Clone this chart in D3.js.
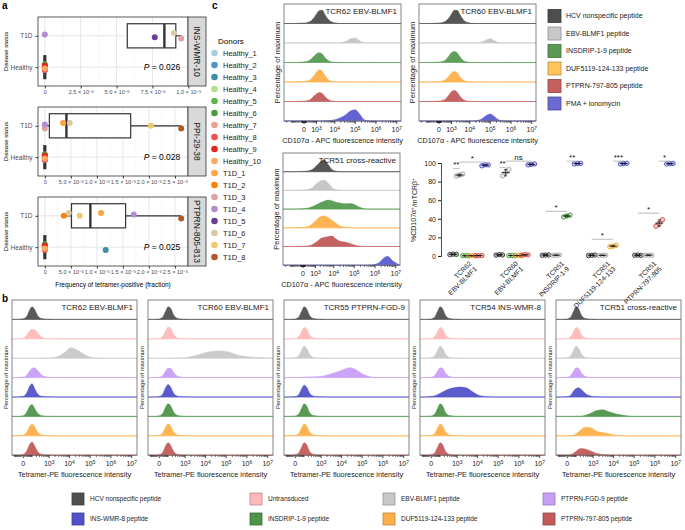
<!DOCTYPE html>
<html>
<head>
<meta charset="utf-8">
<script src="https://cdn.jsdelivr.net/npm/d3@7"></script>
<style>
  body { margin: 0; background: #fff; }
  svg { font-family: "Liberation Sans", Arial, Helvetica, sans-serif; }
</style>
</head>
<body>
<svg id="fig" width="685" height="530"></svg>
<script>
// ---------------- panel a data ----------------
var donors = ['Healthy_1','Healthy_2','Healthy_3','Healthy_4','Healthy_5','Healthy_6','Healthy_7','Healthy_8','Healthy_9','Healthy_10',
              'T1D_1','T1D_2','T1D_3','T1D_4','T1D_5','T1D_6','T1D_7','T1D_8'];
var donorColors = ['#a6cee3','#4f93c9','#3b8ea5','#b2df8a','#5fb84a','#4c9a3b','#ec9f97','#ef4f4f','#e3261f','#fca865',
                   '#fda440','#ff7f0e','#dca3a3','#b08fd0','#6a3d9a','#d8c9a3','#efc96e','#b15928'];
var facetNames = ['INS-WMR-10','PPI-29-38','PTPRN-805-813'];
var facetP = ['0.026','0.028','0.025'];
var freqInsWmr10 = [0,0,0,0,0,0,0,0,0,0, null,null,9.5e-6,0,7.66e-6,9.0e-6,null,null];
var freqPpi2938  = [0,0,0,0,0,0,0,0,0,0, 3.5e-6,null,0,0,null,4.8e-6,2.04e-5,2.62e-5];
var freqPtprn805 = [0,0,1.17e-5,0,0,0,0,0,0,0, 1.08e-5,3.65e-6,null,1.71e-5,null,4.6e-6,6.7e-6,2.62e-5];
var ticksA1 = [0,2.5e-6,5e-6,7.5e-6,1e-5];
var ticksA23 = [0,5e-6,1e-5,1.5e-5,2e-5,2.5e-5];

// ---------------- panel b data ----------------
var bTitles = ['TCR62 EBV-BLMF1','TCR60 EBV-BLMF1','TCR55 PTPRN-FGD-9','TCR54 INS-WMR-8','TCR51 cross-reactive'];
var bConds = ['HCV nonspecific peptide','Untransduced','EBV-BLMF1 peptide','PTPRN-FGD-9 peptide',
              'INS-WMR-8 peptide','INSDRIP-1-9 peptide','DUF5119-124-133 peptide','PTPRN-797-805 peptide'];
var bColors = ['#505050','#ffb8b8','#c8c8c8','#c99ff5','#5252c8','#4f944a','#ffb04a','#c25a5a'];
var bGrid = [-150,-60,0,30,60,100,150,230,400,800,1500,3000,6000,12000,25000,50000,1e5,2e5,5e5,1.8e7];
var histB1 = [
  [0,0,.04,.25,.7,.95,.75,.3,.06,.01,0,0,0,0,0,0,0,0,0,0],
  [0,0,.05,.3,.6,.72,.68,.45,.12,.02,0,0,0,0,0,0,0,0,0,0],
  [0,0,0,0,0,0,0,0,0,.01,.04,.15,.45,.8,.6,.3,.08,.01,0,0],
  [0,0,.04,.2,.5,.7,.75,.55,.2,.04,.01,0,0,0,0,0,0,0,0,0],
  [0,0,.05,.35,.8,1,.65,.25,.05,.01,0,0,0,0,0,0,0,0,0,0],
  [0,0,.05,.35,.75,.9,.6,.25,.05,.01,0,0,0,0,0,0,0,0,0,0],
  [0,0,.04,.3,.7,.9,.7,.3,.06,.01,0,0,0,0,0,0,0,0,0,0],
  [0,0,.05,.35,.8,1,.7,.3,.06,.01,0,0,0,0,0,0,0,0,0,0]];
var histB2 = [
  [0,0,.03,.2,.6,.95,.85,.35,.07,.01,0,0,0,0,0,0,0,0,0,0],
  [0,0,.03,.2,.6,.9,.8,.35,.07,.01,0,0,0,0,0,0,0,0,0,0],
  [0,0,0,0,0,0,0,0,.01,.03,.08,.18,.32,.45,.52,.55,.5,.38,.18,0],
  [0,0,.03,.18,.5,.7,.7,.4,.1,.02,0,0,0,0,0,0,0,0,0,0],
  [0,0,.04,.25,.7,.95,.75,.3,.06,.01,0,0,0,0,0,0,0,0,0,0],
  [0,0,.04,.25,.7,.95,.8,.35,.07,.01,0,0,0,0,0,0,0,0,0,0],
  [0,0,.04,.25,.65,.9,.75,.3,.06,.01,0,0,0,0,0,0,0,0,0,0],
  [0,0,.04,.25,.7,.95,.75,.3,.06,.01,0,0,0,0,0,0,0,0,0,0]];
var histB3 = [
  [0,0,.03,.2,.6,.95,.8,.3,.06,.01,0,0,0,0,0,0,0,0,0,0],
  [0,0,.03,.2,.55,.85,.75,.3,.06,.01,0,0,0,0,0,0,0,0,0,0],
  [0,0,.03,.2,.6,.9,.75,.3,.06,.01,0,0,0,0,0,0,0,0,0,0],
  [0,0,0,.01,.02,.04,.05,.05,.06,.08,.14,.28,.42,.6,.75,.6,.3,.1,.01,0],
  [0,0,.03,.2,.6,.9,.75,.3,.06,.01,0,0,0,0,0,0,0,0,0,0],
  [0,0,.03,.2,.6,.95,.8,.3,.06,.01,0,0,0,0,0,0,0,0,0,0],
  [0,0,.03,.2,.6,.9,.75,.3,.06,.01,0,0,0,0,0,0,0,0,0,0],
  [0,0,.03,.2,.6,.95,.8,.3,.06,.01,0,0,0,0,0,0,0,0,0,0]];
var histB4 = [
  [0,0,.03,.2,.6,.95,.8,.3,.06,.01,0,0,0,0,0,0,0,0,0,0],
  [0,0,.03,.2,.55,.85,.75,.3,.06,.01,0,0,0,0,0,0,0,0,0,0],
  [0,0,.03,.2,.6,.9,.75,.3,.06,.01,0,0,0,0,0,0,0,0,0,0],
  [0,0,.03,.18,.5,.75,.7,.35,.08,.01,0,0,0,0,0,0,0,0,0,0],
  [0,0,.05,.1,.18,.28,.38,.5,.62,.72,.75,.68,.38,.12,.03,0,0,0,0,0],
  [0,0,.03,.2,.6,.95,.8,.3,.06,.01,0,0,0,0,0,0,0,0,0,0],
  [0,0,.03,.2,.6,.9,.75,.3,.06,.01,0,0,0,0,0,0,0,0,0,0],
  [0,0,.03,.2,.6,.95,.8,.3,.06,.01,0,0,0,0,0,0,0,0,0,0]];
var histB5 = [
  [0,0,.03,.2,.6,.95,.8,.3,.06,.01,0,0,0,0,0,0,0,0,0,0],
  [0,0,.03,.2,.55,.85,.75,.3,.06,.01,0,0,0,0,0,0,0,0,0,0],
  [0,0,.03,.2,.6,.9,.75,.3,.06,.01,0,0,0,0,0,0,0,0,0,0],
  [0,0,.03,.18,.5,.75,.7,.35,.08,.01,0,0,0,0,0,0,0,0,0,0],
  [0,0,.03,.15,.45,.65,.7,.55,.25,.06,.01,0,0,0,0,0,0,0,0,0],
  [0,0,0,0,0,.01,.01,.02,.08,.25,.45,.5,.35,.2,.1,.03,0,0,0,0],
  [0,0,0,.02,.05,.15,.3,.5,.65,.6,.35,.25,.15,.05,.01,0,0,0,0,0],
  [0,0,.01,.05,.15,.3,.45,.5,.45,.3,.12,.05,.01,0,0,0,0,0,0,0]];

// ---------------- panel c data ----------------
var cTitles = ['TCR62 EBV-BLMF1','TCR60 EBV-BLMF1','TCR51 cross-reactive'];
var cConds = ['HCV nonspecific peptide','EBV-BLMF1 peptide','INSDRIP-1-9 peptide','DUF5119-124-133 peptide','PTPRN-797-805 peptide','PMA + ionomycin'];
var cColors = ['#4d4d4d','#c4c4c4','#559a50','#ffb04a','#c25a5a','#5b5bd0'];
var cGrid = [-2800,-1000,0,300,600,1000,1500,2200,3200,5000,8000,1.3e4,2e4,3.5e4,6e4,1e5,1.6e5,2.5e5,4e5,7e5,1.5e6,2.5e6,4e6,7e6,1.6e7];
var histC1 = [
  [0,0,.03,.12,.3,.6,.82,.85,.55,.22,.07,.02,0,0,0,0,0,0,0,0,0,0,0,0,0],
  [0,0,0,0,0,0,0,0,0,0,0,0,.02,.1,.28,.32,.15,.03,0,0,0,0,0,0,0],
  [0,0,.04,.15,.35,.55,.62,.55,.3,.1,.03,.01,0,0,0,0,0,0,0,0,0,0,0,0,0],
  [0,0,.03,.12,.35,.62,.78,.7,.4,.12,.03,0,0,0,0,0,0,0,0,0,0,0,0,0,0],
  [0,0,.03,.1,.3,.48,.58,.52,.3,.1,.02,0,0,0,0,0,0,0,0,0,0,0,0,0,0],
  [0,0,0,0,0,0,0,0,.01,.02,.06,.12,.22,.4,.65,.72,.45,.12,.02,0,0,0,0,0,0]];
var histC2 = [
  [0,0,.03,.12,.3,.6,.85,.85,.55,.2,.06,.01,0,0,0,0,0,0,0,0,0,0,0,0,0],
  [0,0,0,0,0,0,0,0,0,0,0,0,0,.04,.18,.28,.15,.03,0,0,0,0,0,0,0],
  [0,0,.03,.12,.35,.62,.7,.62,.35,.1,.03,0,0,0,0,0,0,0,0,0,0,0,0,0,0],
  [0,0,.03,.12,.32,.58,.68,.6,.32,.1,.02,0,0,0,0,0,0,0,0,0,0,0,0,0,0],
  [0,0,.03,.12,.35,.62,.7,.6,.32,.1,.02,0,0,0,0,0,0,0,0,0,0,0,0,0,0],
  [0,0,0,0,0,0,0,0,0,0,0,0,.02,.1,.32,.45,.28,.08,.01,0,0,0,0,0,0]];
var histC3 = [
  [0,0,.02,.06,.15,.32,.52,.7,.8,.5,.15,.03,0,0,0,0,0,0,0,0,0,0,0,0,0],
  [0,0,.02,.08,.18,.38,.55,.65,.7,.5,.2,.05,.01,0,0,0,0,0,0,0,0,0,0,0,0],
  [0,0,.03,.08,.15,.25,.35,.45,.52,.6,.55,.45,.4,.35,.38,.3,.15,.05,.01,0,0,0,0,0,0],
  [0,0,.03,.1,.25,.45,.65,.75,.8,.7,.5,.3,.12,.05,.01,0,0,0,0,0,0,0,0,0,0],
  [0,0,.01,.05,.12,.25,.4,.55,.6,.65,.7,.5,.35,.3,.2,.1,.03,0,0,0,0,0,0,0,0],
  [0,0,0,0,0,0,0,0,0,0,0,0,0,0,0,0,0,0,0,.02,.15,.45,.6,.3,0]];

var dotGroups = ['TCR62 EBV-BLMF1','TCR60 EBV-BLMF1','TCR51 INSDRIP-1-9','TCR51 DUF5119-124-133','TCR51 PTPRN-797-805'];
var dotConds = [[0,1,2,3,4,5],[0,1,2,3,4,5],[0,1,2,5],[0,1,3,5],[0,1,4,5]];
var dotColors = ['#333333','#a8a8a8','#3f9a3f','#f5a623','#d04545','#4a4ad0'];
var dotReps = [
  [[1.5,2,1.8],[86,87,88],[0.3,0.4,0.2],[0.2,0.3,0.3],[0.4,0.3,0.5],[97,98,98]],
  [[1,1.5,1.2],[86,90,93],[0.5,0.6,0.4],[0.4,0.5,0.3],[1,1.5,1.2],[98,98.5,99]],
  [[0.8,1,1.2],[0.8,0.9,1],[42,43,44],[99,99.5,99.6]],
  [[0.5,0.8,1],[0.6,0.7,0.8],[10,10.5,11.5],[99,99.5,99.7]],
  [[0.8,1,0.7],[0.9,1,0.8],[32,35,39],[99,99.3,99.5]]];
// [group, first condition slot, last condition slot, level, label]
var sigMarks = [[0,0,1,94,'**'],[0,1,5,101,'*'],[1,0,1,95,'**'],[1,1,5,102,'ns'],
                [2,0,2,48,'*'],[2,2,3,102,'**'],[3,0,2,18,'*'],[3,2,3,102,'***'],
                [4,0,2,46,'*'],[4,2,3,102,'*']];

var svg = d3.select('#fig');

function panelLabel(t, x, y) {
  svg.append('text').attr('x', x).attr('y', y).attr('font-size', 10).attr('font-weight', 'bold').text(t);
}

// "m x 10^-e" tick labels
function sciLabel(sel, d) {
  sel.text(null);
  if (d === 0) { sel.text('0'); return; }
  var e = Math.floor(Math.log10(d) + 1e-9);
  var m = d / Math.pow(10, e);
  sel.append('tspan').text(m.toFixed(1) + ' \u00d7 10');
  sel.append('tspan').attr('dy', '-0.45em').attr('font-size', '0.75em').text('\u2212' + (-e));
}

// ---------------- panel a ----------------
function drawFacet(fi, vals, ticks, top) {
  var left = 38, right = 188, h = 69, bottom = top + h;
  var g = svg.append('g');
  var pts = [];
  vals.forEach(function (v, k) {
    if (v !== null) pts.push({ k: k, v: v, grp: donors[k].indexOf('T1D') === 0 ? 'T1D' : 'Healthy' });
  });
  var maxV = d3.max(pts, function (p) { return p.v; });
  var x = d3.scaleLinear().domain([-maxV * 0.05, maxV * 1.05]).range([left, right]);
  var y = d3.scalePoint().domain(['T1D', 'Healthy']).range([top, bottom]).padding(0.6);

  g.append('rect').attr('x', left).attr('y', top).attr('width', right - left).attr('height', h).attr('fill', '#fff');
  // grid
  var minor = [];
  for (var i = 0; i < ticks.length - 1; i++) minor.push((ticks[i] + ticks[i + 1]) / 2);
  g.selectAll('.mn').data(minor).enter().append('line')
    .attr('x1', x).attr('x2', x).attr('y1', top).attr('y2', bottom)
    .attr('stroke', '#f0f0f0').attr('stroke-width', 0.5);
  g.selectAll('.mj').data(ticks.filter(function (t) { return x(t) <= right; })).enter().append('line')
    .attr('x1', x).attr('x2', x).attr('y1', top).attr('y2', bottom)
    .attr('stroke', '#e4e4e4').attr('stroke-width', 0.9);
  g.selectAll('.hy').data(y.domain()).enter().append('line')
    .attr('x1', left).attr('x2', right).attr('y1', y).attr('y2', y)
    .attr('stroke', '#e4e4e4').attr('stroke-width', 0.9);

  // boxplots
  var bh = y.step() * 0.77;
  y.domain().forEach(function (grp) {
    var s = pts.filter(function (p) { return p.grp === grp; }).map(function (p) { return p.v; }).sort(d3.ascending);
    var q1 = d3.quantile(s, 0.25), md = d3.quantile(s, 0.5), q3 = d3.quantile(s, 0.75), iqr = q3 - q1;
    var lo = d3.min(s.filter(function (v) { return v >= q1 - 1.5 * iqr; }));
    var hi = d3.max(s.filter(function (v) { return v <= q3 + 1.5 * iqr; }));
    var cy = y(grp);
    g.append('line').attr('x1', x(lo)).attr('x2', x(q1)).attr('y1', cy).attr('y2', cy).attr('stroke', '#333').attr('stroke-width', 1.2);
    g.append('line').attr('x1', x(q3)).attr('x2', x(hi)).attr('y1', cy).attr('y2', cy).attr('stroke', '#333').attr('stroke-width', 1.2);
    g.append('rect').attr('x', x(q1)).attr('y', cy - bh / 2).attr('width', x(q3) - x(q1)).attr('height', bh)
      .attr('fill', '#fff').attr('stroke', '#333').attr('stroke-width', 1.2);
    g.append('line').attr('x1', x(md)).attr('x2', x(md)).attr('y1', cy - bh / 2).attr('y2', cy + bh / 2)
      .attr('stroke', '#333').attr('stroke-width', iqr === 0 ? 3.2 : 2.4);
  });

  // donor points (small vertical jitter)
  g.selectAll('.pt').data(pts).enter().append('circle')
    .attr('cx', function (p) { return x(p.v); })
    .attr('cy', function (p) { return y(p.grp) + (((p.k * 7) % 5) - 2) * 1.4; })
    .attr('r', 3).attr('fill', function (p) { return donorColors[p.k]; });

  g.append('rect').attr('x', left).attr('y', top).attr('width', right - left).attr('height', h)
    .attr('fill', 'none').attr('stroke', '#333').attr('stroke-width', 0.8);

  // strip
  g.append('rect').attr('x', right).attr('y', top).attr('width', 18).attr('height', h)
    .attr('fill', '#d9d9d9').attr('stroke', '#333').attr('stroke-width', 0.8);
  g.append('text').attr('transform', 'translate(' + (right + 9) + ',' + (top + h / 2) + ') rotate(90)')
    .attr('text-anchor', 'middle').attr('dy', '0.35em').attr('font-size', 8.5).attr('fill', '#1a1a1a')
    .text(facetNames[fi]);

  // axes
  var xa = g.append('g').attr('transform', 'translate(0,' + bottom + ')')
    .call(d3.axisBottom(x).tickValues(ticks).tickSize(2.5).tickPadding(2));
  xa.select('.domain').remove();
  xa.selectAll('.tick line').attr('stroke', '#333');
  xa.selectAll('.tick text').attr('font-size', 5.6).attr('fill', '#4d4d4d').each(function (d) { sciLabel(d3.select(this), d); });
  var ya = g.append('g').attr('transform', 'translate(' + left + ',0)')
    .call(d3.axisLeft(y).tickSize(2.5).tickPadding(3));
  ya.select('.domain').remove();
  ya.selectAll('.tick line').attr('stroke', '#333');
  ya.selectAll('.tick text').attr('font-size', 6.5).attr('fill', '#4d4d4d');
  g.append('text').attr('transform', 'translate(8,' + (top + h / 2) + ') rotate(-90)')
    .attr('text-anchor', 'middle').attr('font-size', 6).text('Disease status');

  var pv = g.append('text').attr('x', 162).attr('y', y('Healthy')).attr('dy', '0.35em')
    .attr('text-anchor', 'middle').attr('font-size', 8.5);
  pv.append('tspan').attr('font-style', 'italic').text('P');
  pv.append('tspan').text(' = ' + facetP[fi]);
}

panelLabel('a', 2, 9);
drawFacet(0, freqInsWmr10, ticksA1, 17);
drawFacet(1, freqPpi2938, ticksA23, 107);
drawFacet(2, freqPtprn805, ticksA23, 197);
svg.append('text').attr('x', 113).attr('y', 287).attr('text-anchor', 'middle').attr('font-size', 6.5)
  .text('Frequency of tetramer-positive (fraction)');

// donors legend
var lg = svg.append('g');
lg.append('text').attr('x', 218).attr('y', 44).attr('font-size', 8).text('Donors');
lg.selectAll('circle').data(donors).enter().append('circle')
  .attr('cx', 214.5).attr('cy', function (d, i) { return 53 + i * 12; }).attr('r', 3.3)
  .attr('fill', function (d, i) { return donorColors[i]; });
lg.selectAll('.lt').data(donors).enter().append('text')
  .attr('x', 223).attr('y', function (d, i) { return 53 + i * 12; }).attr('dy', '0.35em')
  .attr('font-size', 7.5).attr('fill', '#222').text(function (d) { return d; });

// ---------------- fluorescence histogram panels ----------------
function drawHist(o) {
  var g = svg.append('g');
  var x = d3.scaleSymlog().constant(o.c).domain(o.domain).range([o.left, o.left + o.width]);
  var n = o.hists.length, bottom = o.top + n * o.rowH;
  g.append('rect').attr('x', o.left).attr('y', o.top).attr('width', o.width).attr('height', bottom - o.top).attr('fill', '#fff');
  o.hists.forEach(function (hv, r) {
    var base = o.top + (r + 1) * o.rowH;
    var pts = hv.map(function (v, i) { return [o.grid[i], v]; });
    var area = d3.area()
      .x(function (d) { return x(d[0]); })
      .y0(base)
      .y1(function (d) { return base - d[1] * o.rowH * o.k; })
      .curve(d3.curveMonotoneX);
    g.append('line').attr('x1', o.left).attr('x2', o.left + o.width).attr('y1', base).attr('y2', base)
      .attr('stroke', o.colors[r]).attr('stroke-opacity', 0.45).attr('stroke-width', 0.8);
    g.append('path').attr('d', area(pts)).attr('fill', o.colors[r]).attr('fill-opacity', 0.95)
      .attr('stroke', o.colors[r]).attr('stroke-width', 0.5);
  });
  g.append('rect').attr('x', o.left).attr('y', o.top).attr('width', o.width).attr('height', bottom - o.top)
    .attr('fill', 'none').attr('stroke', '#777').attr('stroke-width', 0.9);
  g.append('text').attr('x', o.left + o.width - 4).attr('y', o.top + 10).attr('text-anchor', 'end')
    .attr('font-size', 8).attr('fill', '#222').text(o.title);

  // ticks: majors at 0 and decades, minors logicle-style
  var majors = [0, 1e3, 1e4, 1e5, 1e6, 1e7];
  var minors = [];
  for (var k = 1; k <= 9; k++) { minors.push(k * 10, -k * 10, k * 100, -k * 100, -k * 1000); }
  for (var e = 3; e <= 6; e++) for (var m = 2; m <= 9; m++) minors.push(m * Math.pow(10, e));
  minors = minors.filter(function (v) { return v > o.domain[0] && v < o.domain[1]; });
  g.selectAll('.mi').data(minors).enter().append('line')
    .attr('x1', x).attr('x2', x).attr('y1', bottom).attr('y2', bottom + 1.8)
    .attr('stroke', '#222').attr('stroke-width', 0.6);
  g.selectAll('.ma').data(majors).enter().append('line')
    .attr('x1', x).attr('x2', x).attr('y1', bottom).attr('y2', bottom + 3)
    .attr('stroke', '#222').attr('stroke-width', 0.8);
  var lab = g.selectAll('.ml').data(majors).enter().append('text')
    .attr('x', x).attr('y', bottom + 11).attr('text-anchor', 'middle').attr('font-size', 7).attr('fill', '#222');
  lab.each(function (d) {
    var t = d3.select(this);
    if (d === 0) { t.text('0'); return; }
    t.append('tspan').text('10');
    t.append('tspan').attr('dy', '-0.5em').attr('font-size', '0.7em').text(Math.round(Math.log10(d)));
  });
  g.append('text').attr('x', o.left + o.width / 2).attr('y', bottom + 22).attr('text-anchor', 'middle')
    .attr('font-size', 7.3).attr('fill', '#222').text(o.xlab);
  g.append('text').attr('transform', 'translate(' + (o.left - 4) + ',' + ((o.top + bottom) / 2) + ') rotate(-90)')
    .attr('text-anchor', 'middle').attr('font-size', o.ylabSize).attr('fill', '#222').text('Percentage of maximum');
}

// panel b
panelLabel('b', 2, 302);
var bHists = [histB1, histB2, histB3, histB4, histB5];
var bLefts = [12, 148, 284, 420, 556];
bHists.forEach(function (hs, i) {
  drawHist({ left: bLefts[i], top: 300, width: 125, rowH: 19.4, hists: hs, colors: bColors, grid: bGrid,
             c: 60, domain: [-150, 1.8e7], k: 0.68, title: bTitles[i],
             xlab: 'Tetramer-PE fluorescence intensity', ylabSize: 5.8 });
});

// panel b legend
var bLegX = [72, 250, 383, 543];
var bl = svg.append('g');
bConds.forEach(function (c, i) {
  var col = i % 4, row = Math.floor(i / 4);
  var lx = bLegX[col], ly = 499 + row * 20;
  bl.append('rect').attr('x', lx).attr('y', ly - 6).attr('width', 12).attr('height', 12)
    .attr('fill', bColors[i]).attr('stroke', d3.color(bColors[i]).darker(0.8)).attr('stroke-width', 0.8);
  bl.append('text').attr('x', lx + 18).attr('y', ly).attr('dy', '0.35em').attr('font-size', 6.5).attr('fill', '#222').text(c);
});

// panel c
panelLabel('c', 212, 9);
var cCfg = [{ left: 284, top: 4, rh: 19.5, h: histC1 }, { left: 419, top: 4, rh: 19.5, h: histC2 },
            { left: 283, top: 153, rh: 18.7, h: histC3 }];
cCfg.forEach(function (cf, i) {
  drawHist({ left: cf.left, top: cf.top, width: 117, rowH: cf.rh, hists: cf.h, colors: cColors, grid: cGrid,
             c: 340, domain: [-2800, 1.6e7], k: 0.8, title: cTitles[i],
             xlab: 'CD107\u03b1 - APC fluorescence intensity', ylabSize: 7.5 });
});

// panel c legend
var cLegColors = ['#4d4d4d', '#c8c8c8', '#5a9a55', '#ffc55a', '#c46060', '#6a6ad0'];
var cl = svg.append('g');
cConds.forEach(function (c, i) {
  var ly = 16 + i * 17.5;
  cl.append('rect').attr('x', 548).attr('y', ly - 6.5).attr('width', 13).attr('height', 13)
    .attr('fill', cLegColors[i]).attr('stroke', d3.color(cLegColors[i]).darker(0.9)).attr('stroke-width', 0.8);
  cl.append('text').attr('x', 566).attr('y', ly).attr('dy', '0.35em').attr('font-size', 7).attr('fill', '#222').text(c);
});

// ---------------- dot plot ----------------
(function () {
  var g = svg.append('g');
  var y = d3.scaleLinear().domain([0, 100]).range([256, 163]);
  var xb = d3.scaleBand().domain(dotGroups).range([446, 677]);
  var slotX = function (gi, si) {
    var n = dotConds[gi].length;
    return xb(dotGroups[gi]) + xb.bandwidth() / 2 - 16 + 32 * si / (n - 1);
  };
  var ya = g.append('g').attr('transform', 'translate(441,0)')
    .call(d3.axisLeft(y).tickValues([0, 20, 40, 60, 80, 100]).tickSize(3).tickPadding(2));
  ya.select('.domain').attr('stroke', '#222').attr('stroke-width', 0.8);
  ya.selectAll('.tick line').attr('stroke', '#222');
  ya.selectAll('.tick text').attr('font-size', 7).attr('fill', '#222');
  var yl = g.append('text').attr('transform', 'translate(416,210) rotate(-90)').attr('text-anchor', 'middle')
    .attr('font-size', 7).attr('fill', '#222');
  yl.append('tspan').text('%CD107\u03b1');
  yl.append('tspan').attr('dy', '-0.45em').attr('font-size', '0.7em').text('+');
  yl.append('tspan').attr('dy', '0.45em').text('/mTCR\u03b2');
  yl.append('tspan').attr('dy', '-0.45em').attr('font-size', '0.7em').text('+');

  dotReps.forEach(function (grp, gi) {
    grp.forEach(function (reps, si) {
      var cx = slotX(gi, si), col = dotColors[dotConds[gi][si]];
      var mean = d3.mean(reps), sd = d3.deviation(reps);
      reps.forEach(function (v, j) {
        g.append('circle').attr('cx', cx + (j - 1) * 3.2).attr('cy', y(v)).attr('r', 2.2)
          .attr('fill', col).attr('fill-opacity', 0.25).attr('stroke', col).attr('stroke-width', 0.9);
      });
      g.append('line').attr('x1', cx - 4).attr('x2', cx + 4).attr('y1', y(mean)).attr('y2', y(mean))
        .attr('stroke', '#111').attr('stroke-width', 0.9);
      g.append('line').attr('x1', cx).attr('x2', cx).attr('y1', y(mean - sd)).attr('y2', y(mean + sd))
        .attr('stroke', '#111').attr('stroke-width', 0.7);
      [mean - sd, mean + sd].forEach(function (v) {
        g.append('line').attr('x1', cx - 1.5).attr('x2', cx + 1.5).attr('y1', y(v)).attr('y2', y(v))
          .attr('stroke', '#111').attr('stroke-width', 0.7);
      });
    });
  });

  sigMarks.forEach(function (s) {
    var x1 = slotX(s[0], s[1]), x2 = slotX(s[0], s[2]), yy = y(s[3]);
    g.append('line').attr('x1', x1).attr('x2', x2).attr('y1', yy).attr('y2', yy)
      .attr('stroke', '#aaa').attr('stroke-width', 0.8);
    g.append('text').attr('x', (x1 + x2) / 2).attr('y', yy - 1.5).attr('text-anchor', 'middle')
      .attr('font-size', 8).attr('fill', '#111').text(s[4]);
  });

  dotGroups.forEach(function (d) {
    var cx = xb(d) + xb.bandwidth() / 2;
    var parts = d.split(' ');
    var t = g.append('text').attr('transform', 'translate(' + (cx + 3) + ',264) rotate(-45)')
      .attr('text-anchor', 'end').attr('font-size', 6.8).attr('fill', '#222');
    t.append('tspan').attr('x', 0).attr('dy', '0em').text(parts[0]);
    t.append('tspan').attr('x', 0).attr('dy', '1.1em').text(parts[1]);
  });
})();
</script>
</body>
</html>
